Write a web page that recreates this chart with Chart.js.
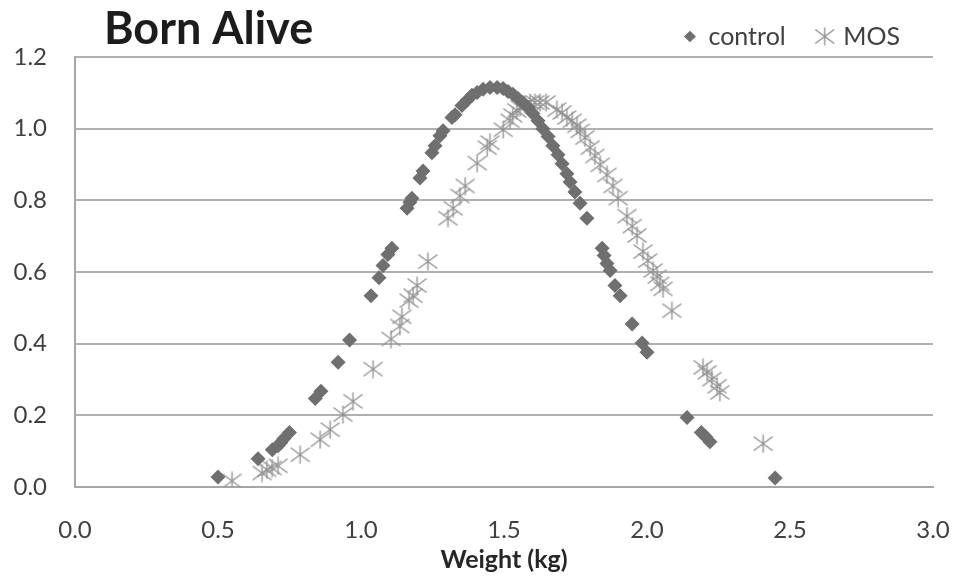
<!DOCTYPE html>
<html>
<head>
<meta charset="utf-8">
<title>Born Alive</title>
<script src="https://cdn.jsdelivr.net/npm/chart.js@4.4.1/dist/chart.umd.min.js"></script>
<style>
  html, body { margin: 0; padding: 0; background: #ffffff; }
  #chart { display: block; }
</style>
</head>
<body>
<canvas id="chart" width="953" height="579"></canvas>
<script>
// Birth weight (kg) against proportion born alive, two groups.
const controlWeight = [
  0.50, 0.64, 0.69, 0.71, 0.72, 0.73, 0.75, 0.84, 0.86, 0.92,
  0.96, 1.035, 1.063, 1.077, 1.094, 1.108, 1.161, 1.171, 1.178, 1.206,
  1.217, 1.248, 1.259, 1.276, 1.287, 1.318, 1.329, 1.353, 1.371, 1.388,
  1.406, 1.427, 1.451, 1.476, 1.497, 1.514, 1.531, 1.549, 1.566, 1.584,
  1.601, 1.619, 1.636, 1.654, 1.671, 1.689, 1.703, 1.720, 1.731, 1.748,
  1.766, 1.790, 1.843, 1.850, 1.860, 1.871, 1.888, 1.906, 1.948, 1.983,
  2.000, 2.140, 2.190, 2.205, 2.220, 2.448
];
const controlBorn = [
  0.028, 0.079, 0.104, 0.115, 0.124, 0.135, 0.152, 0.247, 0.267, 0.348,
  0.410, 0.534, 0.584, 0.618, 0.649, 0.666, 0.778, 0.795, 0.806, 0.862,
  0.882, 0.933, 0.952, 0.980, 0.994, 1.031, 1.039, 1.065, 1.079, 1.093,
  1.101, 1.110, 1.115, 1.115, 1.112, 1.104, 1.096, 1.084, 1.073, 1.059,
  1.042, 1.022, 1.000, 0.978, 0.952, 0.927, 0.902, 0.874, 0.851, 0.823,
  0.792, 0.750, 0.666, 0.646, 0.624, 0.604, 0.562, 0.534, 0.455, 0.402,
  0.376, 0.194, 0.152, 0.140, 0.126, 0.025
];
const mosWeight = [
  0.549, 0.654, 0.671, 0.689, 0.710, 0.787, 0.857, 0.892, 0.937, 0.972,
  1.042, 1.105, 1.136, 1.143, 1.168, 1.182, 1.196, 1.234, 1.304, 1.322,
  1.346, 1.364, 1.406, 1.441, 1.451, 1.497, 1.521, 1.531, 1.545, 1.556,
  1.573, 1.591, 1.608, 1.626, 1.647, 1.685, 1.703, 1.720, 1.738, 1.755,
  1.766, 1.783, 1.801, 1.818, 1.836, 1.860, 1.881, 1.899, 1.930, 1.948,
  1.965, 1.986, 2.003, 2.021, 2.035, 2.045, 2.056, 2.087, 2.196, 2.210,
  2.227, 2.245, 2.255, 2.406
];
const mosBorn = [
  0.017, 0.039, 0.048, 0.053, 0.059, 0.090, 0.132, 0.160, 0.202, 0.239,
  0.329, 0.413, 0.449, 0.475, 0.520, 0.534, 0.562, 0.629, 0.750, 0.778,
  0.812, 0.840, 0.904, 0.947, 0.961, 0.997, 1.022, 1.037, 1.051, 1.059,
  1.067, 1.073, 1.073, 1.073, 1.073, 1.053, 1.045, 1.031, 1.022, 1.008,
  0.994, 0.975, 0.947, 0.924, 0.899, 0.871, 0.840, 0.806, 0.756, 0.728,
  0.702, 0.657, 0.632, 0.604, 0.587, 0.567, 0.553, 0.492, 0.334, 0.320,
  0.301, 0.281, 0.264, 0.121
];
const seriesNames = ['control', 'MOS'];
const xTickValues = [0.0, 0.5, 1.0, 1.5, 2.0, 2.5, 3.0];
const yTickValues = [0.0, 0.2, 0.4, 0.6, 0.8, 1.0, 1.2];
const chartTitle = 'Born Alive';
const xAxisTitle = 'Weight (kg)';

// Asterisk marker: an X crossed by a vertical stroke.
function makeAsterisk(w, h, color, width) {
  const c = document.createElement('canvas');
  c.width = w; c.height = h;
  const g = c.getContext('2d');
  const m = w / 2;
  g.strokeStyle = color;
  g.lineWidth = width;
  g.lineCap = 'butt';
  g.beginPath();
  g.moveTo(m, 0.5); g.lineTo(m, h - 0.5);
  g.moveTo(1, 2.5); g.lineTo(w - 1, h - 2.5);
  g.moveTo(w - 1, 2.5); g.lineTo(1, h - 2.5);
  g.stroke();
  return c;
}
const asterisk = makeAsterisk(21, 19, '#939393', 1.4);

const toPoints = (xs, ys) => xs.map((x, i) => ({ x: x, y: ys[i] }));

const FONT = 'Lato, "Open Sans", sans-serif';

// Title drawn in the band above the plot, left-aligned.
const titlePlugin = {
  id: 'leftTitle',
  afterDraw(chart) {
    const ctx = chart.ctx;
    ctx.save();
    ctx.font = 'bold 45px ' + FONT;
    ctx.fillStyle = '#1c1c1c';
    ctx.textBaseline = 'alphabetic';
    ctx.textAlign = 'left';
    ctx.fillText(chartTitle, 104, 44);
    ctx.restore();
  }
};

// Fixed legend band height so the plot starts at a set line.
const legendBand = {
  id: 'legendBand',
  beforeInit(chart) {
    const fit = chart.legend.fit;
    chart.legend.fit = function () {
      fit.call(this);
      this.height = 66;
    };
  }
};

new Chart(document.getElementById('chart'), {
  type: 'scatter',
  data: {
    datasets: [
      {
        label: seriesNames[0],
        data: toPoints(controlWeight, controlBorn),
        pointStyle: 'rectRot',
        pointRadius: 7.5,
        pointHoverRadius: 7.5,
        backgroundColor: '#6f6f6f',
        borderColor: '#6f6f6f',
        borderWidth: 0
      },
      {
        label: seriesNames[1],
        data: toPoints(mosWeight, mosBorn),
        pointStyle: asterisk,
        pointRadius: 9,
        backgroundColor: '#939393',
        borderColor: '#939393'
      }
    ]
  },
  options: {
    responsive: false,
    animation: false,
    devicePixelRatio: 1,
    layout: { padding: { top: -9, right: 20, bottom: 0, left: 0 } },
    plugins: {
      title: { display: false },
      tooltip: { enabled: false },
      legend: {
        display: true,
        position: 'top',
        align: 'end',
        labels: {
          usePointStyle: true,
          pointStyleWidth: 12,
          boxHeight: 8,
          padding: 33,
          color: '#404040',
          font: { family: FONT, size: 25 }
        }
      }
    },
    scales: {
      x: {
        type: 'linear',
        min: 0, max: 3,
        afterBuildTicks(scale) { scale.ticks = xTickValues.map(v => ({ value: v })); },
        afterFit(scale) { scale.height = 92; scale.paddingLeft = 0; scale.paddingRight = 0; },
        grid: { display: false, drawTicks: false },
        border: { display: true, color: '#a6a6a6', width: 2 },
        ticks: {
          padding: 29,
          color: '#404040',
          font: { family: FONT, size: 24 },
          maxRotation: 0,
          callback: v => Number(v).toFixed(1)
        },
        title: {
          display: true,
          text: xAxisTitle,
          color: '#262626',
          font: { family: FONT, size: 25, weight: 'bold' },
          padding: { top: 0, bottom: 4 }
        }
      },
      y: {
        type: 'linear',
        min: 0, max: 1.2,
        afterBuildTicks(scale) { scale.ticks = yTickValues.map(v => ({ value: v })); },
        afterFit(scale) { scale.width = 75; scale.paddingTop = 0; scale.paddingBottom = 0; },
        grid: { display: true, color: '#b0b0b0', lineWidth: 2, drawTicks: false },
        border: { display: true, color: '#a6a6a6', width: 2 },
        ticks: {
          padding: 28,
          color: '#404040',
          font: { family: FONT, size: 24 },
          callback: v => Number(v).toFixed(1)
        }
      }
    }
  },
  plugins: [titlePlugin, legendBand]
});
</script>
</body>
</html>
